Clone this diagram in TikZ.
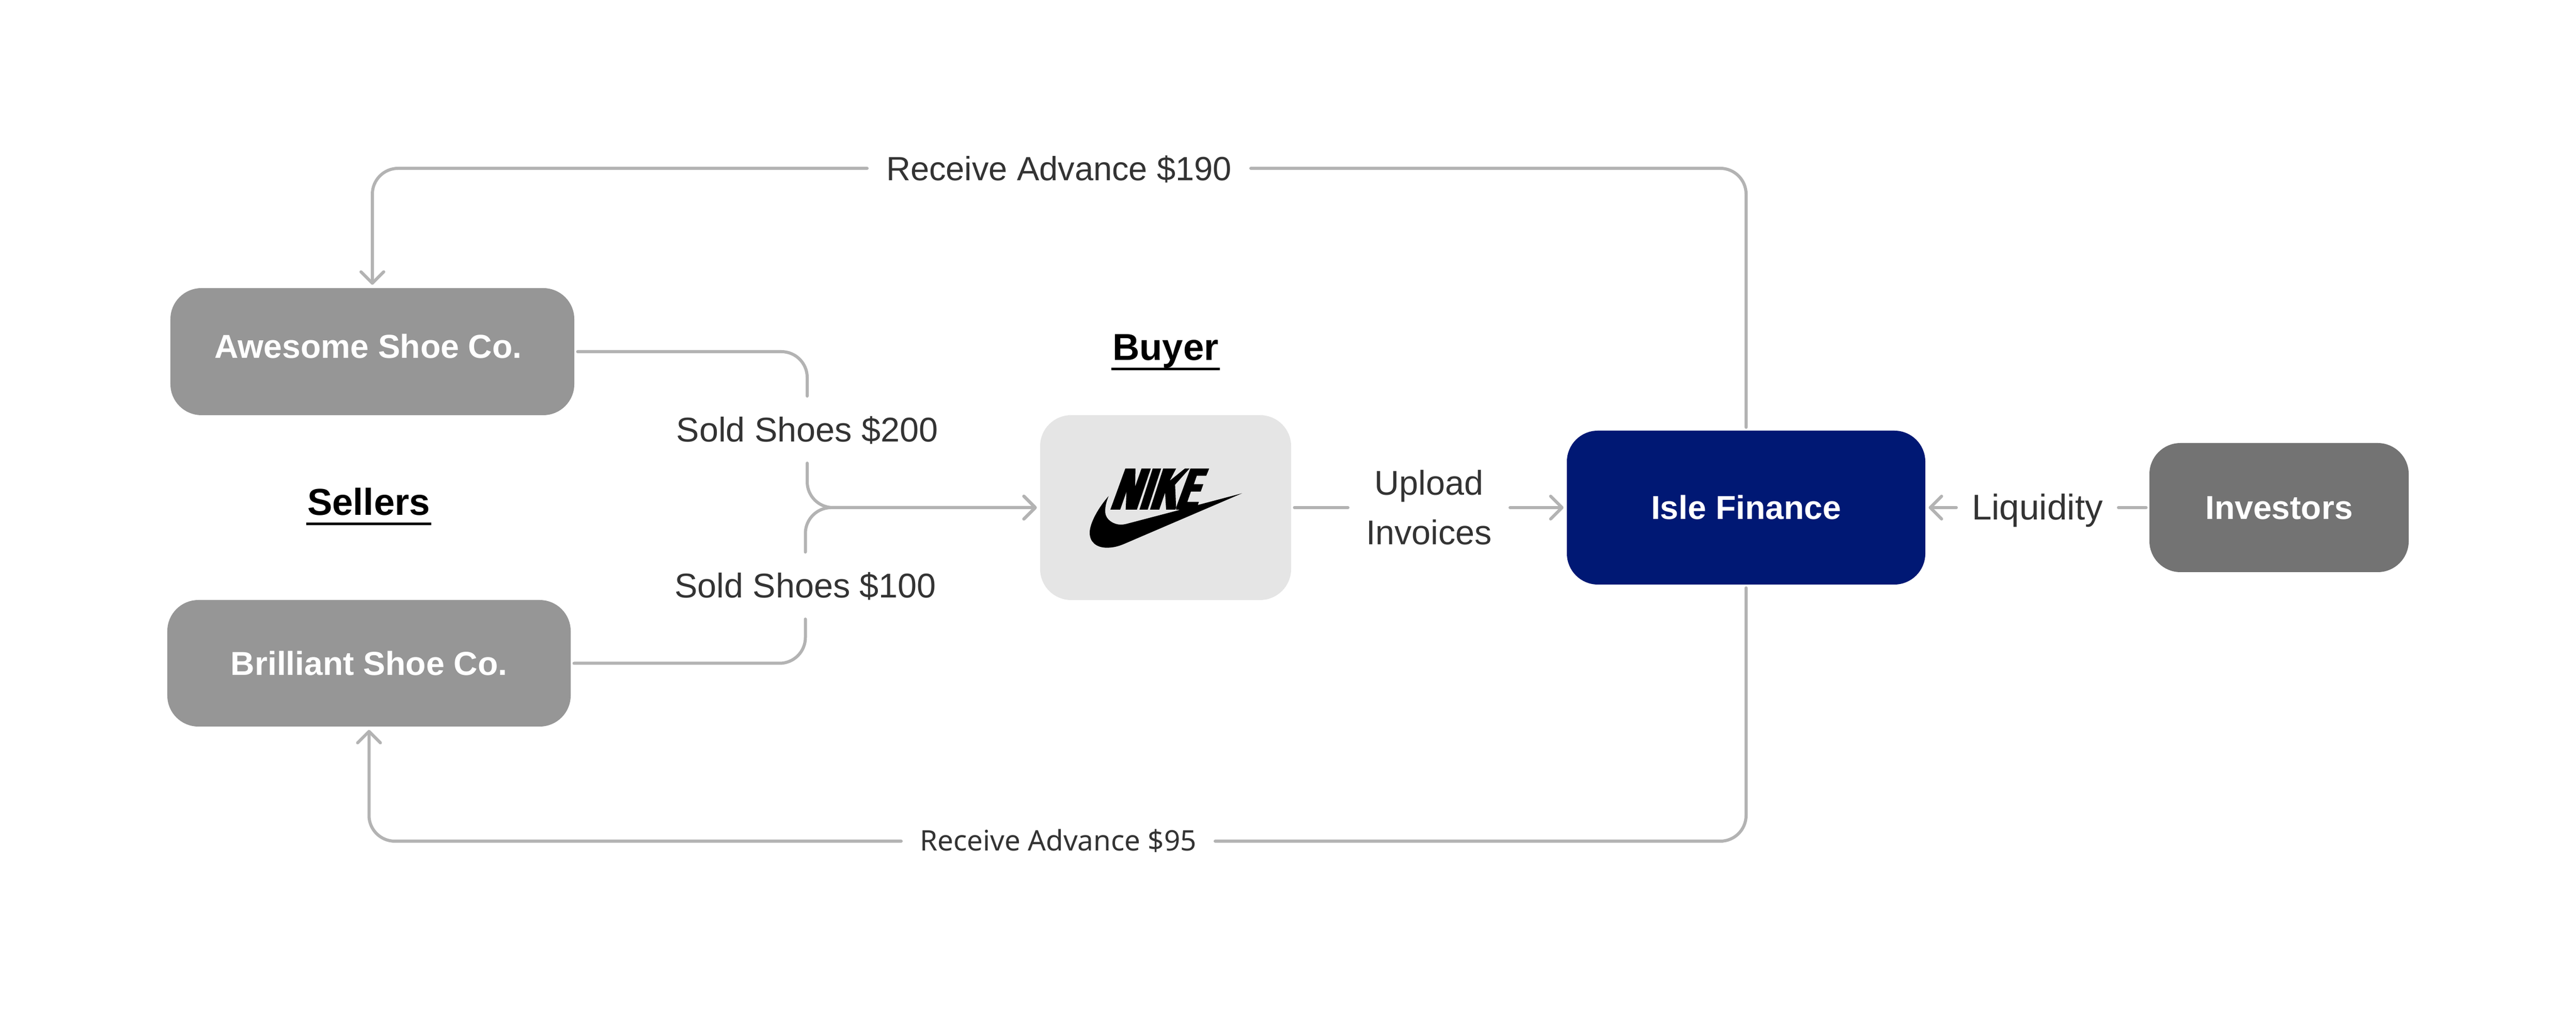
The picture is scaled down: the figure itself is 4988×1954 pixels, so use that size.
\documentclass[tikz,border=0pt]{standalone}
\usepackage{fontspec}
\usepackage{graphicx}
\usetikzlibrary{arrows.meta}
\newfontfamily\lblfam{Liberation Sans}
\newfontfamily\smallfam{Noto Sans}
\newfontfamily\boxfam{Liberation Sans}
\definecolor{linegray}{HTML}{B3B3B3}
\definecolor{lbltext}{HTML}{333333}
\definecolor{sellergray}{HTML}{969696}
\definecolor{buyergray}{HTML}{E5E5E5}
\definecolor{islenavy}{HTML}{001874}
\definecolor{invgray}{HTML}{737373}
\newcommand\headlbl[1]{\setbox0\hbox{\kern0.4pt #1\kern0.4pt}\copy0\hspace{-\wd0}\rule[-3.9pt]{\wd0}{1pt}}
\tikzset{
  boxnode/.style={rectangle,rounded corners=12pt,inner sep=0pt,outer sep=1.3pt,
    text=white,text height=9.2pt,text depth=0pt,
    font=\boxfam\bfseries\fontsize{12.85}{15}\selectfont},
  lbl/.style={rectangle,inner sep=0pt,outer sep=0pt,text=lbltext,text height=9.4pt,text depth=0pt,
    font=\lblfam\fontsize{13.3}{15}\selectfont},
  conn/.style={draw=linegray,line width=1.2pt,line cap=round,line join=round,rounded corners=10pt},
  tiparrow/.style={-{Straight Barb[length=4.4pt,width=8.8pt,line width=1.2pt,round]}},
  heading/.style={anchor=base,inner sep=0pt,text=black,font=\boxfam\bfseries\fontsize{14.5}{17}\selectfont},
}
\begin{document}
\begin{tikzpicture}[x=0.2pt,y=-0.2pt]
\useasboundingbox (0,0) rectangle (4988,1954);
% boxes
\node[boxnode,fill=sellergray,minimum width=156.4pt,minimum height=49.2pt] (awesome) at (721,681) {\raisebox{2pt}{Awesome Shoe Co.\hspace{3.2pt}}};
\node[boxnode,fill=sellergray,minimum width=156.2pt,minimum height=49pt] (brilliant) at (714.5,1284.5) {Brilliant Shoe Co.};
\node[boxnode,fill=buyergray,minimum width=97.2pt,minimum height=71.6pt] (buyer) at (2257,983) {};
\node[boxnode,fill=islenavy,minimum width=138.8pt,minimum height=59.6pt] (isle) at (3381,983) {Isle Finance};
\node[boxnode,fill=invgray,minimum width=100.4pt,minimum height=50pt] (investors) at (4413,983) {Investors};
% headings
\node[heading] (sellers) at (714,998) {\headlbl{Sellers}};
\node[heading] (buyerhead) at (2257,698) {\headlbl{Buyer}};
% labels
\node[lbl,minimum width=148.6pt,minimum height=12pt,font=\lblfam\fontsize{13}{15}\selectfont] (rec190) at (2050.5,326) {Receive Advance \$190};
\node[lbl,minimum width=121.6pt,minimum height=12pt,text height=7.6pt,font=\smallfam\fontsize{10.95}{13}\selectfont] (rec95) at (2049,1629) {Receive Advance \$95};
\node[lbl,minimum height=26pt] (sold200) at (1563,832) {Sold Shoes \$200};
\node[lbl,minimum height=26pt] (sold100) at (1559.5,1134) {Sold Shoes \$100};
\node[lbl,minimum width=62.8pt,minimum height=12pt,font=\lblfam\fontsize{13.85}{15}\selectfont] (liquidity) at (3945,983) {Liquidity};
\node[rectangle,inner sep=0pt,outer sep=0pt,text=lbltext,align=center,minimum width=62.8pt,
  font=\lblfam\fontsize{13.3}{19.2}\selectfont] (upload) at (2767,983)
  {\rule{0pt}{11pt}Upload\\Invoices\rule[-1.4pt]{0pt}{1.4pt}};
% connectors
\draw[conn,tiparrow] (rec190.west) -| (awesome.north);
\draw[conn] (isle.north) |- (rec190.east);
\draw[conn,tiparrow] (rec95.west) -| (brilliant.south);
\draw[conn] (isle.south) |- (rec95.east);
\draw[conn] (awesome.east) -| (sold200.north);
\draw[conn] (brilliant.east) -| (sold100.south);
\draw[conn,tiparrow] (sold200.south) |- (buyer.west);
\draw[conn,tiparrow] (sold100.north) |- (buyer.west);
\draw[conn] (buyer.east) -- (upload.west);
\draw[conn,tiparrow] (upload.east) -- (isle.west);
\draw[conn,tiparrow] (liquidity.west) -- (isle.east);
\draw[conn] (investors.west) -- (liquidity.east);
% logo
\begin{scope}[shift={(2100,890)},x=0.06667pt,y=-0.06667pt]
\fill[black] (237,52) -- (296,52) -- (294,157) -- (331,52) -- (385,52) -- (304,291) -- (239,291) -- (244,186) -- (207,291) -- (150,291) -- cycle;
\fill[black] (396,52) -- (445,52) -- (367,291) -- (319,291) -- cycle;
\fill[black] (457,52) -- (532,52) -- (495,123) -- (583,52) -- (610,52) -- (526,146) -- (532,280) -- (527,291) -- (474,291) -- (468,192) -- (434,291) -- (380,291) -- cycle;
\fill[black] (615,52) -- (724,52) -- (707,94) -- (652,94) -- (635,143) -- (690,143) -- (675,186) -- (618,186) -- (597,246) -- (664,246) -- (658,264) -- (915,196)
  -- (230,490) .. controls (190,507) and (160,512) .. (130,512)
  .. controls (70,512) and (30,480) .. (30,425)
  .. controls (30,370) and (80,280) .. (140,212)
  .. controls (122,255) and (120,280) .. (120,305)
  .. controls (122,350) and (170,378) .. (210,378)
  .. controls (225,378) and (240,375) .. (250,372)
  -- (555,292) -- (532,291) -- (532,278) -- cycle;
\end{scope}
\end{tikzpicture}
\end{document}
